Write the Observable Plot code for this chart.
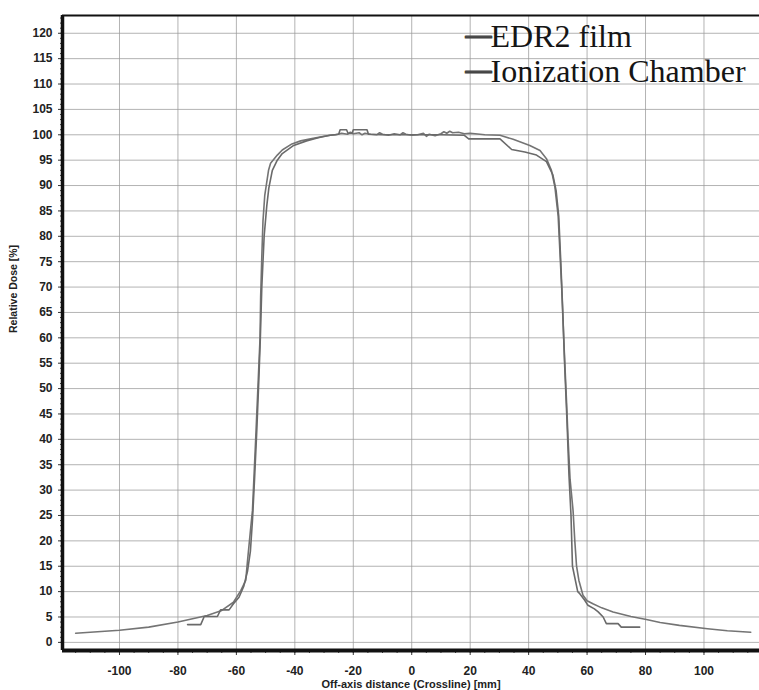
<!DOCTYPE html>
<html>
<head>
<meta charset="utf-8">
<script src="https://cdn.jsdelivr.net/npm/d3@7"></script>
<script src="https://cdn.jsdelivr.net/npm/@observablehq/plot@0.6"></script>
<style>
  html, body { margin: 0; padding: 0; background: #fff; }
  #chart { position: relative; width: 759px; height: 690px; }
</style>
</head>
<body>
<div id="chart"></div>
<script>
// ---- Data ----
const seriesNames = ["EDR2 film", "Ionization Chamber"];

// EDR2 film profile (long, smooth tails, noisy plateau)
const filmX = [-115, -110, -100, -90, -80, -70, -65, -61, -58.5, -56.8, -56.2, -55.2, -54.5, -53.4, -52.5, -51.9, -51.7, -51.3, -50.9, -50.3, -49, -48.3, -46, -44.3, -41, -38, -34.6, -30, -27.8,
  -26, -24, -22, -21, -20, -18, -17, -16, -14, -12, -11, -10, -8, -6, -4, -3, -2, 0, 2, 4, 5, 6, 8, 10, 11, 12, 13, 14, 16, 18, 20,
  25, 30.2, 34.7, 40.4, 43.9, 46.1, 47.8, 49, 50.1, 51.3, 52, 53, 53.5, 54.2, 55.2, 55.8, 56.4, 57.2, 58.6, 60, 62, 65, 68.9, 75, 80.3, 85, 91.6, 101.2, 108, 116];
const filmY = [1.8, 2.0, 2.4, 3.0, 4.0, 5.3, 6.3, 7.9, 10.2, 12.2, 16, 22, 26, 40, 52, 60, 68, 76, 83, 88, 93, 94.4, 96, 97, 98.2, 98.8, 99.2, 99.7, 99.9,
  100.0, 100.3, 100.1, 100.5, 100.2, 100.4, 100.0, 100.3, 100.1, 100.0, 100.4, 100.1, 99.9, 100.2, 100.0, 100.4, 100.1, 99.9, 100.0, 100.3, 99.7, 100.1, 99.8, 100.2, 100.6, 100.3, 100.7, 100.4, 100.5, 100.2, 100.3,
  100.0, 99.9, 99.1, 97.9, 96.9, 95.3, 93, 89.7, 84, 70, 60, 47, 40, 32, 26, 20, 15, 12.2, 9.3, 8.2, 7.6, 6.8, 6.0, 5.1, 4.5, 3.9, 3.35, 2.7, 2.3, 2.0];

// Ionization chamber profile (shorter scan, stepped tails)
const chamberX = [-76.7, -72.2, -71, -66.5, -65.4, -62.5, -61, -59.1, -57.5, -56.2, -55.2, -54.5, -53.8, -53, -52.3, -51.8, -51.3, -50.5, -49.6, -48.9, -47.7, -46, -44.3, -40.4, -36, -32, -28, -25,
  -24.5, -22.3, -21.8, -20.4, -20, -15.3, -14.8, -10, 0, 10, 18, 19.5, 30.2, 34.2, 38.7, 42.7, 46.1, 48.3, 49.4, 50.3, 51, 51.7, 52.3, 53.1, 53.8, 54.5, 55, 56.8, 57.5, 59.2, 60.3, 62.5, 63.8, 65.5, 66.6, 70.6, 71.7, 78];
const chamberY = [3.5, 3.5, 5.1, 5.1, 6.4, 6.4, 7.6, 8.9, 11, 14, 18, 24, 32, 42, 52, 60, 70, 80, 86, 89.5, 93, 95, 96.3, 97.9, 98.8, 99.4, 99.9, 100.1,
  101, 101, 100.3, 100.3, 101, 101, 100.1, 100.0, 100.0, 100.0, 99.9, 99.2, 99.2, 97.1, 96.6, 96, 94.7, 92.1, 89, 84, 75, 65, 55, 44, 33, 25, 15, 10, 9.6, 8.3, 7.3, 6.6, 6.0, 5.0, 3.7, 3.7, 3.0, 3.0];

const xTicks = [-100, -80, -60, -40, -20, 0, 20, 40, 60, 80, 100];
const xMinor = d3.range(-115, 116, 5);
const yTicks = d3.range(0, 121, 5);
const yMinor = d3.range(0, 124, 1);

const xLabel = "Off-axis distance (Crossline) [mm]";
const yLabel = "Relative Dose [%]";

// ---- Build tables ----
const film = filmX.map((x, i) => ({x, y: filmY[i]}));
const chamber = chamberX.map((x, i) => ({x, y: chamberY[i]}));

const xDomain = [-119.5, 119];
const yDomain = [-1.6, 123.5];
const serif = "Liberation Serif, Times New Roman, serif";

const plot = Plot.plot({
  width: 759,
  height: 690,
  marginLeft: 62,
  marginRight: 0,
  marginTop: 15,
  marginBottom: 40,
  style: {background: "#fff", fontFamily: "Liberation Sans, Arial, sans-serif"},
  x: {domain: xDomain, label: null},
  y: {domain: yDomain, label: null},
  marks: [
    Plot.gridX(xTicks, {stroke: "#9a9a9a", strokeOpacity: 0.75, strokeWidth: 1}),
    Plot.gridY(yTicks, {stroke: "#9a9a9a", strokeOpacity: 0.75, strokeWidth: 1}),
    Plot.axisY(yMinor, {tickSize: 2, text: null, stroke: "#444"}),
    Plot.axisY(yTicks, {tickSize: 4, tickPadding: 6, fontSize: 12, fontWeight: "bold", fill: "#222", stroke: "#333", label: null}),
    Plot.axisX(xMinor, {tickSize: 3, text: null, stroke: "#444"}),
    Plot.axisX(xTicks, {tickSize: 5, tickPadding: 11, fontSize: 12, fontWeight: "bold", fill: "#222", stroke: "#333", label: null, tickFormat: d => String(d)}),
    Plot.line(film, {x: "x", y: "y", stroke: "#747474", strokeWidth: 1.6}),
    Plot.line(chamber, {x: "x", y: "y", stroke: "#6a6a6a", strokeWidth: 1.6}),
    Plot.ruleY([yDomain[1]], {stroke: "#111", strokeWidth: 2}),
    Plot.ruleX([xDomain[0]], {stroke: "#111", strokeWidth: 3.5}),
    Plot.ruleY([yDomain[0]], {stroke: "#111", strokeWidth: 4}),
    Plot.text([xLabel], {frameAnchor: "bottom", dy: 37, fontSize: 11, fontWeight: "bold", fill: "#222"}),
    Plot.text([yLabel], {frameAnchor: "left", dx: -49, rotate: -90, fontSize: 10.5, fontWeight: "bold", fill: "#222"}),
    // legend: dash + series name
    Plot.text(["\u2014"], {frameAnchor: "top-left", lineAnchor: "middle", dx: 403, dy: 19, textAnchor: "start", fontSize: 26, fontFamily: serif, fill: "#444", stroke: "#444", strokeWidth: 1.2, fontWeight: "bold"}),
    Plot.text(["\u2014"], {frameAnchor: "top-left", lineAnchor: "middle", dx: 403, dy: 54, textAnchor: "start", fontSize: 26, fontFamily: serif, fill: "#444", stroke: "#444", strokeWidth: 1.2, fontWeight: "bold"}),
    Plot.text([seriesNames[0]], {frameAnchor: "top-left", lineAnchor: "middle", dx: 428, dy: 21, textAnchor: "start", fontSize: 32, fontFamily: serif, fill: "#151515"}),
    Plot.text([seriesNames[1]], {frameAnchor: "top-left", lineAnchor: "middle", dx: 428, dy: 56, textAnchor: "start", fontSize: 32, fontFamily: serif, fill: "#151515"})
  ]
});
document.getElementById("chart").appendChild(plot);
</script>
</body>
</html>
